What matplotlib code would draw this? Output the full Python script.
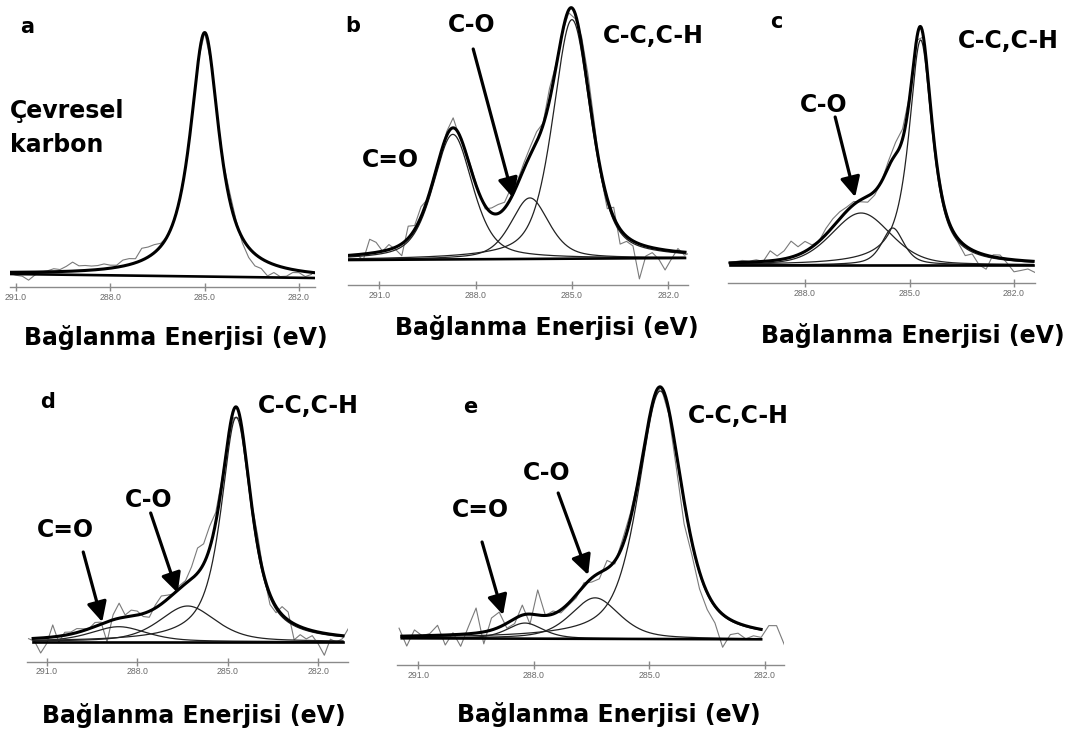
import numpy as np
import matplotlib.pyplot as plt

# C1s peak fits: centre (eV), height, fwhm (eV), lorentz fraction
a_center = [285.0]
a_height = [244]
a_fwhm = [1.1]
a_eta = [0.9]
a_bg = [1, -3]            # background at high / low energy end
a_range = [291.19, 281.49]
a_raw_start = 291.2
a_resid = [-1, -3, -4, -8, -3, 0, 1, 3, 2, 5, 9, 5, 5, 4, 4, 5, 3, 2, 6, 6,
           4, 12, 10, 8, 3, 0, 0, 0, 0, 0, 0, 0, -2, 0, 2, 8, 3, -5, -10, -12,
           -10, -14, -8, -10, -8, -3, -2, -5, -2]

b_center = [288.71, 286.31, 285.0]
b_height = [125, 61, 239]
b_fwhm = [1.45, 1.4, 1.4]
b_eta = [0.5, 0.5, 0.5]
b_bg = [-2, 0]
b_range = [291.97, 281.48]
b_raw_start = 291.9
b_resid = [0, 0, -6, 14, 10, 0, 5, -2, -12, 12, 4, 10, 0, 2, 0, 4, 10, -2, 2, 3,
           0, -3, 5, 9, 6, 10, 3, 6, 8, 10, 2, 12, 3, 0, -3, -5, 8, 15, 10, -5,
           -10, 10, -15, -5, -5, -35, -10, -5, -10, -20, -8, 3, -3, 0]

c_center = [286.39, 285.48, 284.68]
c_height = [52, 37, 225]
c_fwhm = [2.0, 0.75, 0.8]
c_eta = [0.3, 0.6, 0.85]
c_bg = [0, 0]
c_range = [290.15, 281.45]
c_raw_start = 290.2
c_resid = [0, 1, 2, 1, 2, 0, 10, 4, 8, 16, 8, 10, 2, 0, 6, 8, 7, 4, 3, -2,
           -6, -4, 0, 6, 12, 10, 3, 0, 0, 0, 2, 2, -2, -4, -10, -4, -12, -14, 2, 3,
           -4, -12, -10, -8, -11]

d_center = [288.61, 286.33, 284.72]
d_height = [15, 35.7, 224.5]
d_fwhm = [2.2, 2.2, 1.2]
d_eta = [0.5, 0.5, 0.8]
d_bg = [0, 0]
d_range = [291.45, 281.18]
d_raw_start = 291.6
d_resid = [0, -3, -15, -6, 12, -6, 3, 2, 4, 2, 0, 4, 2, -20, 5, 15, 2, 6, 4, -3,
           -6, 3, 8, 4, 0, 3, 3, 12, 25, 20, 22, 10, 5, 0, -8, -2, 0, 3, 10, 0,
           -10, -6, 8, 8, -16, -8, -10, -5, -12, -22, -5, -7, -3, 8]

e_center = [288.23, 286.41, 284.72]
e_height = [15.6, 41, 248]
e_fwhm = [1.1, 1.5, 1.35]
e_eta = [0.5, 0.5, 0.6]
e_bg = [0, -1]
e_range = [291.43, 282.1]
e_raw_start = 291.5
e_resid = [8, -10, 6, 0, 2, 10, -10, 2, -12, 7, 25, -12, 12, 15, -5, -5, 10, -10, 25, 0,
           3, -3, -2, -3, 3, -4, -6, 8, -3, 6, 6, 2, 0, 0, 0, -5, -15, -23, -13, -17,
           -17, -17, -33, -15, -10, -13, -8, -8, 5, 6, -12]

ticks = [291.0, 288.0, 285.0, 282.0]
xlabel = "Bağlanma Enerjisi (eV)"

W, H = 1073, 733
fig = plt.figure(figsize=(W / 100, H / 100), dpi=100)
fig.patch.set_facecolor("white")


def pv(x, c, h, w, eta):
    lor = 1 / (1 + (2 * (x - c) / w) ** 2)
    gau = np.exp(-4 * np.log(2) * ((x - c) / w) ** 2)
    return h * (eta * lor + (1 - eta) * gau)


def model(x, cen, hgt, fw, eta, bg, rng):
    b = np.interp(x, [rng[1], rng[0]], [bg[1], bg[0]])
    comps = [pv(x, *p) for p in zip(cen, hgt, fw, eta)]
    return b, comps


def panel(box, tpx, cen, hgt, fw, eta, bg, rng, raw_start, resid, parts=True):
    # box: left, right, axis line y, baseline y, top y  (pixels)
    # tpx: (energy, px), (energy, px) of two ticks
    left, right, axy, base, top = box
    (e1, p1), (e2, p2) = tpx
    s = (p2 - p1) / (e1 - e2)
    ax = fig.add_axes([left / W, 1 - axy / H, (right - left) / W, (axy - top) / H])

    xr = raw_start - 0.2 * np.arange(len(resid))
    b, comps = model(xr, cen, hgt, fw, eta, bg, rng)
    raw = b + np.sum(comps, axis=0) + np.array(resid)
    ax.plot(xr, raw, color="#7a7a7a", lw=0.8)

    x = np.linspace(rng[0], rng[1], 800)
    b, comps = model(x, cen, hgt, fw, eta, bg, rng)
    if parts:
        for c in comps:
            ax.plot(x, c + b, color="#222222", lw=0.9)
    ax.plot(x, b, color="black", lw=1.9)
    ax.plot(x, b + np.sum(comps, axis=0), color="black", lw=2.2)

    for sp in ["top", "left", "right"]:
        ax.spines[sp].set_visible(False)
    ax.spines["bottom"].set_color("#8a8a8a")
    ax.spines["bottom"].set_linewidth(1.0)
    ax.set_yticks([])
    ax.set_xticks(ticks)
    ax.set_xticklabels([f"{t:.1f}" for t in ticks])
    ax.tick_params(axis="x", direction="inout", length=6, width=1, color="#8a8a8a",
                   labelsize=6.3, labelcolor="#6a6a6a", pad=1)
    for lab in ax.get_xticklabels():
        lab.set_family("Liberation Sans")
    # limits last, so the tick list does not widen them
    ax.set_xlim(e1 + (p1 - left) / s, e2 - (right - p2) / s)
    ax.set_ylim(-(axy - base), base - top)
    ax.patch.set_alpha(0)
    return ax


def put(x, y, s, size=17, ha="left"):
    fig.text(x / W, 1 - y / H, s, fontsize=size, fontweight="bold", ha=ha,
             va="baseline", family="DejaVu Sans")


def arrow(ax, e, i, dx, dy):
    ax.annotate("", xy=(e, i), xytext=(dx, dy), textcoords="offset pixels",
                arrowprops=dict(arrowstyle="-|>,head_length=0.6,head_width=0.3",
                                lw=2.3, color="black", shrinkA=0, shrinkB=0,
                                mutation_scale=20))


ax_a = panel((10, 315, 287, 275, 25), ((291, 16), (282, 299)),
             a_center, a_height, a_fwhm, a_eta, a_bg, a_range, a_raw_start, a_resid,
             parts=False)
ax_b = panel((348, 688, 285, 258, 2), ((291, 379.3), (282, 668.3)),
             b_center, b_height, b_fwhm, b_eta, b_bg, b_range, b_raw_start, b_resid)
ax_c = panel((728, 1035, 283, 265, 20), ((288, 805), (282, 1014)),
             c_center, c_height, c_fwhm, c_eta, c_bg, c_range, c_raw_start, c_resid)
ax_d = panel((27, 348, 661.7, 641.7, 400), ((291, 46.7), (282, 318.3)),
             d_center, d_height, d_fwhm, d_eta, d_bg, d_range, d_raw_start, d_resid)
ax_e = panel((396.7, 784, 665, 638.3, 378), ((291, 418.3), (282, 765)),
             e_center, e_height, e_fwhm, e_eta, e_bg, e_range, e_raw_start, e_resid)

# panel a
put(20, 33, "a", 15)
put(10, 118, "Çevresel")
put(10, 152, "karbon")
put(176, 345, xlabel, ha="center")

# panel b
put(345, 32, "b", 15)
put(448, 32, "C-O")
put(362, 167, "C=O")
put(603, 43, "C-C,C-H")
arrow(ax_b, 286.83, 60, -40, 149)
put(547, 335, xlabel, ha="center")

# panel c
put(770, 28, "c", 15)
put(958, 48, "C-C,C-H")
put(800, 112, "C-O")
arrow(ax_c, 286.56, 68, -20, 80)
put(913, 343, xlabel, ha="center")

# panel d
put(40, 408, "d", 15)
put(258, 413, "C-C,C-H")
put(125, 507, "C-O")
put(37, 537, "C=O")
arrow(ax_d, 286.66, 48.7, -27, 80)
arrow(ax_d, 289.16, 19.7, -19, 70)
put(194, 723, xlabel, ha="center")

# panel e
put(463, 413, "e", 15)
put(688, 423, "C-C,C-H")
put(523, 480, "C-O")
put(452, 517, "C=O")
arrow(ax_e, 286.59, 63.3, -30, 82)
arrow(ax_e, 288.8, 23.3, -21, 73)
put(609, 722, xlabel, ha="center")

fig.savefig("out.png", dpi=100, facecolor="white")
